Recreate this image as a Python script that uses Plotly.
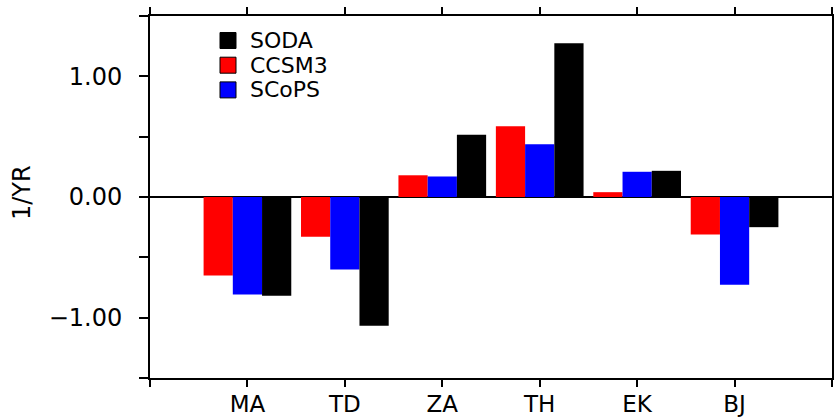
import plotly.graph_objects as go

categories = ["MA", "TD", "ZA", "TH", "EK", "BJ"]
ccsm3 = [-0.65, -0.33, 0.18, 0.587, 0.04, -0.31]
scops = [-0.808, -0.60, 0.17, 0.438, 0.209, -0.728]
soda = [-0.819, -1.066, 0.516, 1.275, 0.217, -0.25]

series_names = ["CCSM3", "SCoPS", "SODA"]
series_vals = [ccsm3, scops, soda]
series_colors = ["#FF0000", "#0000FF", "#000000"]

legend_order = ["SODA", "CCSM3", "SCoPS"]

y_tickvals = [-1.5, -1.0, -0.5, 0.0, 0.5, 1.0, 1.5]
y_ticktext = ["", "\u22121.00", "", "0.00", "", "1.00", ""]

W, H = 834, 419
ML, MR, MT, MB = 150, 2, 16, 41
PW, PH = W - ML - MR, H - MT - MB

FONT = "DejaVu Sans"

xpos = list(range(1, len(categories) + 1))

fig = go.Figure()
for name, vals, col in zip(series_names, series_vals, series_colors):
    fig.add_trace(go.Bar(
        x=xpos, y=vals, name=name,
        marker=dict(color=col, line=dict(width=0)),
        showlegend=False,
    ))

x_tickvals = list(range(0, len(categories) + 2))
x_ticktext = [""] + categories + [""]

fig.update_layout(
    width=W, height=H,
    margin=dict(l=ML, r=MR, t=MT, b=MB, pad=0, autoexpand=False),
    paper_bgcolor="white", plot_bgcolor="white",
    barmode="group", bargap=0.1, bargroupgap=0,
    font=dict(family=FONT, size=24, color="black"),
    xaxis=dict(
        range=[0, len(categories) + 1],
        tickvals=x_tickvals, ticktext=x_ticktext,
        ticks="outside", ticklen=7, tickwidth=2, tickcolor="black",
        showline=True, linewidth=2, linecolor="black", mirror="ticks",
        showgrid=False, zeroline=False, automargin=False,
        tickfont=dict(family=FONT, size=23),
        ticklabelstandoff=-3,
    ),
    yaxis=dict(
        range=[-1.5, 1.5],
        tickvals=y_tickvals, ticktext=y_ticktext,
        ticks="outside", ticklen=9, tickwidth=2, tickcolor="black",
        showline=True, linewidth=2, linecolor="black", mirror=True,
        showgrid=False, automargin=False,
        zeroline=True, zerolinewidth=2, zerolinecolor="black",
        tickfont=dict(family=FONT, size=24),
        ticklabelstandoff=12,
    ),
)

# y-axis title
fig.add_annotation(
    text="1/YR", xref="paper", yref="paper",
    x=(22 - ML) / PW, y=(H - MB - 193) / PH,
    xanchor="center", yanchor="middle", textangle=-90,
    showarrow=False, font=dict(family=FONT, size=24, color="black"),
)

# custom legend
color_of = dict(zip(series_names, series_colors))
row0_center = 40.5
row_step = 24.7
box = 16
box_x0 = 220
for i, name in enumerate(legend_order):
    cy = row0_center + i * row_step
    fig.add_shape(
        type="rect", xref="paper", yref="paper",
        x0=(box_x0 - ML) / PW, x1=(box_x0 + box - ML) / PW,
        y0=(H - MB - (cy + box / 2)) / PH, y1=(H - MB - (cy - box / 2)) / PH,
        fillcolor=color_of[name], line=dict(color="black", width=1),
    )
    fig.add_annotation(
        text=name, xref="paper", yref="paper",
        x=(248 - ML) / PW, y=(H - MB - cy) / PH,
        xanchor="left", yanchor="middle", showarrow=False,
        font=dict(family=FONT, size=22, color="black"),
    )

fig.write_html("out.html")
